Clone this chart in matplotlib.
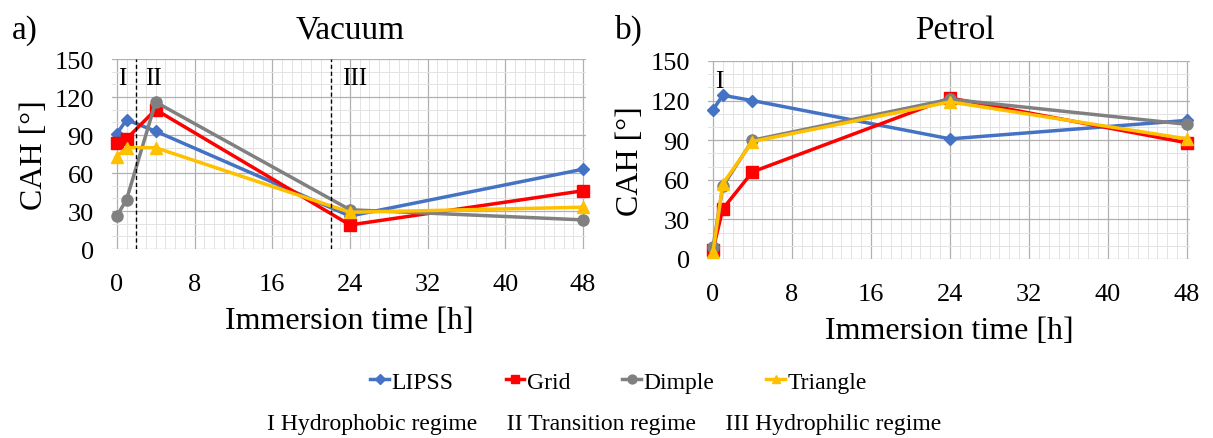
import matplotlib
matplotlib.use("Agg")
import matplotlib.pyplot as plt
from matplotlib.ticker import MultipleLocator

plt.rcParams['font.family'] = ['Liberation Serif', 'DejaVu Serif']

times = [0, 1, 4, 24, 48]
series_names = ["LIPSS", "Grid", "Dimple", "Triangle"]

vac_lipss = [91, 102, 93, 26, 63]
vac_grid = [84, 87, 110, 19, 46]
vac_dimple = [26, 39, 116, 31, 23]
vac_triangle = [73, 80, 80, 29, 33]

pet_lipss = [113, 124, 120, 91, 105]
pet_grid = [7, 38, 66, 122, 88]
pet_dimple = [9, 55, 90, 121, 102]
pet_triangle = [5, 57, 89, 119, 91]

x_ticks = [0, 8, 16, 24, 32, 40, 48]
y_ticks = [0, 30, 60, 90, 120, 150]
regime_bounds = [2, 22]
regime_labels = ["I", "II", "III"]
regime_label_x = [0.6, 3.8, 24.5]

colors = ["#4472C4", "#FF0000", "#808080", "#FFC000"]
markers = ["D", "s", "o", "^"]
msizes = [6, 8, 8, 8]

fig = plt.figure(figsize=(12.13, 4.39), dpi=100)
axL = fig.add_axes([0.0923, 0.4305, 0.3908, 0.4328])
axR = fig.add_axes([0.5837, 0.4078, 0.3974, 0.4510])

def style(ax):
    ax.set_xlim(-0.5, 48.3)
    ax.set_ylim(0, 150)
    ax.xaxis.set_major_locator(MultipleLocator(8))
    ax.xaxis.set_minor_locator(MultipleLocator(1))
    ax.yaxis.set_major_locator(MultipleLocator(30))
    ax.yaxis.set_minor_locator(MultipleLocator(10))
    ax.grid(which='major', color='#B0B0B0', linewidth=0.9)
    ax.grid(which='minor', color='#E3E3E3', linewidth=0.7)
    ax.set_axisbelow(True)
    for s in ax.spines.values():
        s.set_visible(False)
    ax.tick_params(which='both', length=0, labelsize=19)
    ax.tick_params(axis='x', pad=17)
    ax.tick_params(axis='y', pad=13)
    ax.set_xticks(x_ticks)
    ax.set_yticks(y_ticks)
    ax.set_ylabel("CAH [°]", fontsize=23, labelpad=4)
    ax.set_xlabel("Immersion time [h]", fontsize=23, labelpad=8)

lines = []
for ax, data in [(axL, [vac_lipss, vac_grid, vac_dimple, vac_triangle]),
                 (axR, [pet_lipss, pet_grid, pet_dimple, pet_triangle])]:
    style(ax)
    lines = []
    for name, vals, c, m, ms in zip(series_names, data, colors, markers, msizes):
        ln, = ax.plot(times, vals, color=c, marker=m, markersize=ms, linewidth=2.5,
                      label=name, clip_on=False)
        lines.append(ln)

for b in regime_bounds:
    axL.axvline(b, color='black', linestyle='--', linewidth=1.0, dashes=(3, 2))
for lab, xx in zip(regime_labels, regime_label_x):
    axL.text(xx, 135, lab, fontsize=18, ha='center', va='center')
axR.text(0.6, 135, "I", fontsize=18, ha='center', va='center')

fig.text(0.010, 0.93, "a)", fontsize=24, ha='left', va='center')
fig.text(0.289, 0.93, "Vacuum", fontsize=24, ha='center', va='center')
fig.text(0.507, 0.93, "b)", fontsize=24, ha='left', va='center')
fig.text(0.787, 0.93, "Petrol", fontsize=24, ha='center', va='center')

fig.legend(handles=lines, loc='center', bbox_to_anchor=(0.51, 0.128), ncol=4,
           frameon=False, fontsize=17, handlelength=0.8, handletextpad=0.1,
           columnspacing=2.2, markerscale=0.8)
fig.text(0.498, 0.032, "I Hydrophobic regime     II Transition regime     III Hydrophilic regime",
         fontsize=17, ha='center', va='center')

fig.savefig("out.png", dpi=100)
